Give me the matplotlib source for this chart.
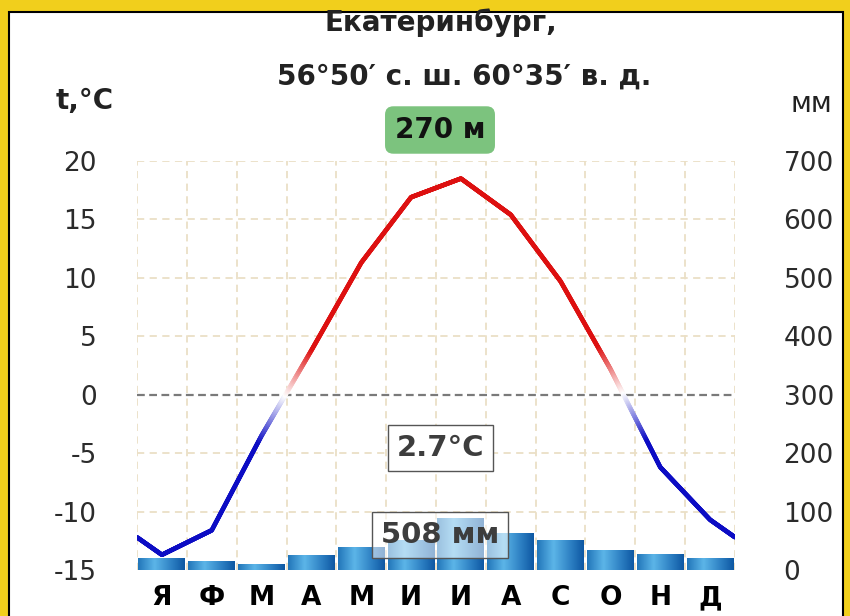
import matplotlib.pyplot as plt
import numpy as np
from matplotlib.collections import LineCollection
from matplotlib.colors import LinearSegmentedColormap, to_rgb
from matplotlib.patches import Rectangle

# climate data
months = ['Я', 'Ф', 'М', 'А', 'М', 'И', 'И', 'А', 'С', 'О', 'Н', 'Д']
temp = [-13.7, -11.6, -3.5, 3.8, 11.3, 16.9, 18.5, 15.4, 9.7, 2.2, -6.2, -10.7]
precip = [20, 15, 10, 24, 39, 50, 88, 63, 50, 34, 26, 20]
t_ticks = [-15, -10, -5, 0, 5, 10, 15, 20]
p_ticks = [0, 100, 200, 300, 400, 500, 600, 700]

title1 = 'Екатеринбург,'
title2 = '56°50′ с. ш. 60°35′ в. д.'
height_label = '270 м'
mean_temp = '2.7°C'
total_precip = '508 мм'

plt.rcParams['font.family'] = ['DejaVu Sans']
plt.rcParams['axes.unicode_minus'] = False

W, H = 850, 616
fig = plt.figure(figsize=(W / 100, H / 100), dpi=100, facecolor='#f1cf1c')
fig.add_artist(Rectangle((9 / W, -0.01), (843 - 9) / W, 1 - 12 / H + 0.01,
                         transform=fig.transFigure, facecolor='white',
                         edgecolor='black', lw=1.5, zorder=0))

rect = [137 / W, 46 / H, 598 / W, 409 / H]
ax2 = fig.add_axes(rect)   # precipitation, drawn below
ax = fig.add_axes(rect)    # temperature, on top
ax.patch.set_visible(False)
ax2.patch.set_visible(False)

# grid (beige dashes) on the precipitation axis so bars cover it
grid_c = '#ebdfc6'
for v in range(0, 13):
    ax2.axvline(v, color=grid_c, ls=(0, (4, 3)), lw=1.3, zorder=1)
for p in p_ticks[1:]:
    if p != 300:
        ax2.axhline(p, color=grid_c, ls=(0, (4, 3)), lw=1.3, zorder=1)

# gradient bars
bar_cmap = LinearSegmentedColormap.from_list(
    'bar', [(0, '#2377ba'), (0.35, '#5cb5e8'), (0.75, '#2a7cc0'), (1, '#0e58a3')])
grad = np.linspace(0, 1, 60).reshape(1, -1)
for i, p in enumerate(precip):
    ax2.imshow(grad, cmap=bar_cmap, extent=(i + 0.03, i + 0.97, 0, p),
               aspect='auto', zorder=3)
ax2.set_xlim(0, 12)
ax2.set_ylim(0, 700)
ax2.set_xticks([])
ax2.yaxis.tick_right()
ax2.set_yticks(p_ticks)
ax2.tick_params(axis='y', length=0, pad=35, labelsize=19, labelcolor='#2b2b2b')
for s in ax2.spines.values():
    s.set_visible(False)

# temperature line, red above zero, blue below, fading to white near zero
edge = (temp[0] + temp[-1]) / 2
xp = [0] + [i + 0.5 for i in range(12)] + [12]
yp = [edge] + temp + [edge]
xs = np.linspace(0, 12, 1500)
ys = np.interp(xs, xp, yp)
pts = np.column_stack([xs, ys])
segs = np.stack([pts[:-1], pts[1:]], axis=1)
red = np.array(to_rgb('#dd1010'))
blue = np.array(to_rgb('#0c0cc4'))
white = np.ones(3)
mid = (ys[:-1] + ys[1:]) / 2
cols = []
for v in mid:
    k = min(abs(v) / 4.0, 1.0)
    base = red if v > 0 else blue
    cols.append(white * (1 - k) + base * k)
ax.add_collection(LineCollection(segs, colors=cols, linewidths=3.3,
                                 capstyle='round', zorder=4))
ax.axhline(0, color='#7a7a7a', ls=(0, (3.5, 2)), lw=1.6, zorder=3)

ax.set_xlim(0, 12)
ax.set_ylim(-15, 20)
ax.set_yticks(t_ticks)
ax.set_xticks([i + 0.5 for i in range(12)])
ax.set_xticklabels(months, fontweight='bold', fontsize=19)
ax.tick_params(axis='x', length=0, pad=11)
ax.tick_params(axis='y', length=0, pad=29, labelsize=19, labelcolor='#2b2b2b')
for s in ax.spines.values():
    s.set_visible(False)

# titles and labels
fig.text(441 / W, 1 - 23 / H, title1, ha='center', va='center',
         fontsize=20, fontweight='bold', color='#222222')
fig.text(464 / W, 1 - 77 / H, title2, ha='center', va='center',
         fontsize=20, fontweight='bold', color='#222222')
fig.text(85 / W, 1 - 101 / H, 't,°C', ha='center', va='center',
         fontsize=20, fontweight='bold', color='#222222')
fig.text(811 / W, 1 - 104 / H, 'мм', ha='center', va='center',
         fontsize=20, color='#222222')
fig.text(440 / W, 1 - 130 / H, height_label, ha='center', va='center',
         fontsize=20, fontweight='bold', color='#111111',
         bbox=dict(boxstyle='round,pad=0.35,rounding_size=0.3',
                   fc='#7cc37e', ec='none'))
fig.text(440 / W, 1 - 448 / H, mean_temp, ha='center', va='center',
         fontsize=21, fontweight='bold', color='#3d3d3d', zorder=6,
         bbox=dict(boxstyle='square,pad=0.3', fc='white', ec='#555555', lw=1))
fig.text(440 / W, 1 - 535 / H, total_precip, ha='center', va='center',
         fontsize=21, fontweight='bold', color='#3d3d3d', zorder=6,
         bbox=dict(boxstyle='square,pad=0.3', fc=(1, 1, 1, 0.55),
                   ec='#555555', lw=1))

fig.savefig('out.png', dpi=100, facecolor=fig.get_facecolor())
